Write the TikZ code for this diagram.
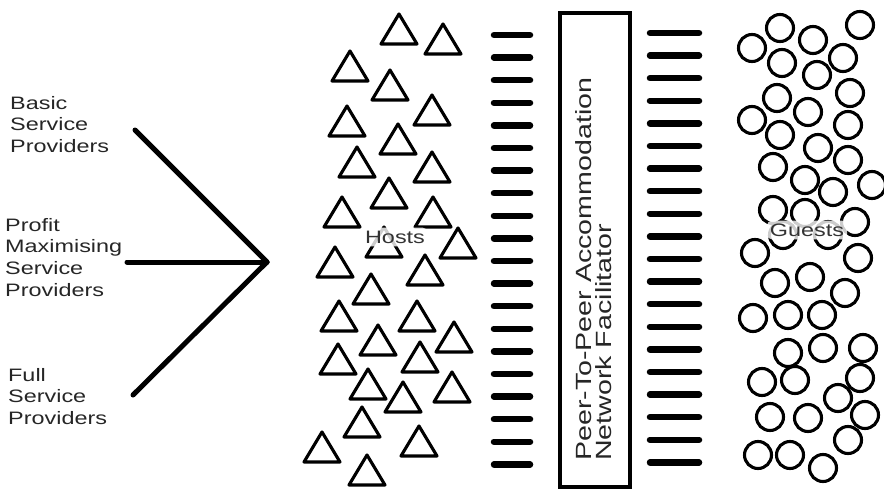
\documentclass[tikz,border=0pt]{standalone}
\usepackage{fontspec}
\setmainfont{Liberation Sans}[FakeStretch=1.3]
\usetikzlibrary{positioning}
\tikzset{
  tri/.style={draw=black, line width=3.1pt, line join=round},
  ring/.style={draw=black, line width=3.1pt},
  bar/.style={draw=black, line width=6.5pt, line cap=round},
  spoke/.style={draw=black, line width=5pt, line cap=round, line join=round},
  side/.style={align=left, anchor=north west, inner sep=0pt, text=black!85, font=\fontsize{18}{21.6}\selectfont},
  tag/.style={fill=white, fill opacity=0.8, text opacity=1, inner sep=3pt, rounded corners=5pt, text=black!80, font=\fontsize{18}{20}\selectfont},
}

\begin{document}
\begin{tikzpicture}[x=1pt, y=-1pt]
  \useasboundingbox (0,0) rectangle (884,490);

  % provider labels
  \node[side] (basic) at (10,96) {Basic\\Service\\Providers};
  \node[side] (profit) at (5,218) {Profit\\Maximising\\Service\\Providers};
  \node[side] (full) at (8,368) {Full\\Service\\Providers};

  \coordinate (meet) at (267,262);
  \coordinate (b0) at (135,130);
  \coordinate (p0) at (127,262);
  \coordinate (f0) at (133,395);
  \draw[spoke] (b0) -- (meet);
  \draw[spoke] (p0) -- (meet);
  \draw[spoke] (f0) -- (meet);

  % hosts
  \foreach \x/\y in {399/29, 443/39, 350/66, 390/85, 432/110, 347/121, 398/139,
      357/162, 432/167, 389/193, 342/212, 433/212, 458/243, 335/262, 425/270,
      371/289, 339/316, 417/316, 378/340, 454/337, 420/357, 338/359, 368/384,
      452/387, 403/397, 362/422, 322/447, 419/441, 367/470, 384/242}
    \draw[tri] (\x,\y) ++(-18,15) -- ++(18,-30) -- ++(18,30) -- cycle;

  % facilitator
  \foreach \i in {0,...,19} {
    \draw[bar] (494,{35+22.6*\i}) -- (530,{35+22.6*\i});
    \draw[bar] (650,{33+22.6*\i}) -- (699,{33+22.6*\i});
  }
  \node[draw=black, line width=3.8pt, minimum width=70pt, minimum height=474pt, inner sep=0pt] (hub) at (595,250) {};
  \node[rotate=90, anchor=north west, align=left, inner sep=0pt, text=black!85,
        font=\fontsize{22}{20}\selectfont] (hubtext) at (575,461)
        {Peer-To-Peer Accommodation\\Network Facilitator};

  % guests
  \foreach \x/\y in {780/28, 860/25, 752/48, 813/40, 782/63, 843/58, 817/75,
      850/93, 777/98, 752/120, 808/112, 848/125, 780/135, 818/148, 848/160,
      773/167, 805/180, 833/192, 872/185, 773/210, 805/213, 855/222, 783/235,
      828/235, 755/253, 858/258, 775/283, 810/277, 845/293, 753/318, 788/315,
      822/315, 788/353, 823/348, 863/348, 762/382, 795/380, 860/378, 838/398,
      770/417, 808/418, 865/415, 848/440, 758/455, 790/455, 823/468}
    \draw[ring] (\x,\y) circle[radius=13.5];

  \node[tag] (hosts) at (395,237) {Hosts};
  \node[tag] (guests) at (807,230) {Guests};
\end{tikzpicture}
\end{document}
